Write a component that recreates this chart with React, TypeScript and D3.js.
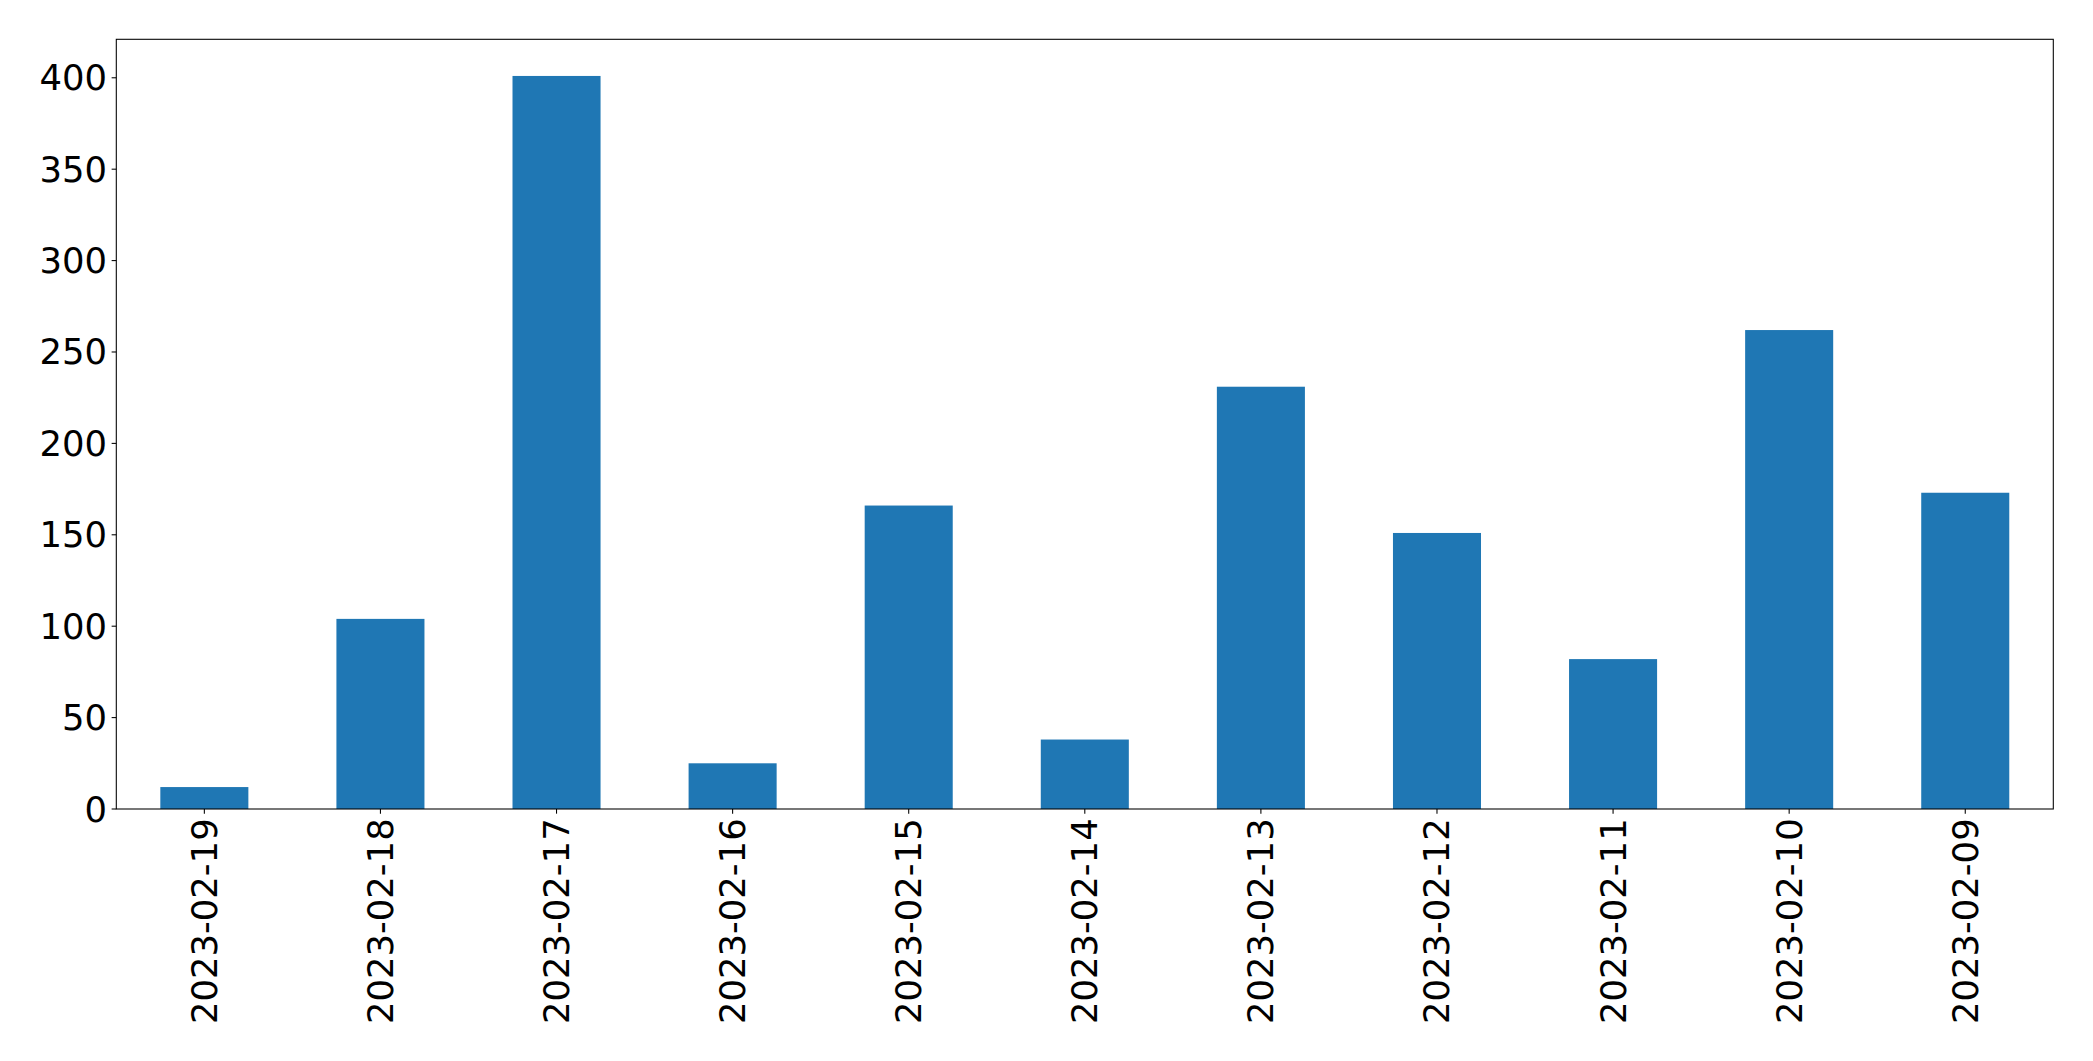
import React from "react";
import * as d3 from "d3";

const categories = [
  "2023-02-19", "2023-02-18", "2023-02-17", "2023-02-16", "2023-02-15", "2023-02-14",
  "2023-02-13", "2023-02-12", "2023-02-11", "2023-02-10", "2023-02-09",
];
const values = [12, 104, 401, 25, 166, 38, 231, 151, 82, 262, 173];
const yTicks = [0, 50, 100, 150, 200, 250, 300, 350, 400];

const W = 2093;
const H = 1061;
const left = 116.3;
const right = 2053.3;
const top = 39.3;
const bottom = 809;
const fontSize = 35.4;
const tickLen = 4.67;
const pad = 4.67;
const font = "'DejaVu Sans', sans-serif";

export default function App() {
  const x = d3.scaleLinear().domain([-0.5, categories.length - 0.5]).range([left, right]);
  const yMax = d3.max(values)! * 1.05;
  const y = d3.scaleLinear().domain([0, yMax]).range([bottom, top]);
  const bw = x(0.25) - x(-0.25);

  return (
    <div style={{ position: "fixed", left: 0, top: 0 }}>
      <svg width={W} height={H} style={{ display: "block", background: "#fff" }}>
        {values.map((v, i) => (
          <rect
            key={i}
            x={x(i) - bw / 2}
            y={y(v)}
            width={bw}
            height={y(0) - y(v)}
            fill="#1f77b4"
          />
        ))}
        <rect
          x={left}
          y={top}
          width={right - left}
          height={bottom - top}
          fill="none"
          stroke="#000"
          strokeWidth={1.07}
        />
        {yTicks.map((t) => (
          <g key={t}>
            <line x1={left - tickLen} x2={left} y1={y(t)} y2={y(t)} stroke="#000" strokeWidth={1.07} />
            <text
              x={left - tickLen - pad}
              y={y(t)}
              textAnchor="end"
              dominantBaseline="central"
              fontFamily={font}
              fontSize={fontSize}
              fill="#000"
            >
              {t}
            </text>
          </g>
        ))}
        {categories.map((c, i) => (
          <g key={c}>
            <line x1={x(i)} x2={x(i)} y1={bottom} y2={bottom + tickLen} stroke="#000" strokeWidth={1.07} />
            <text
              transform={`translate(${x(i)},${bottom + tickLen + pad}) rotate(-90)`}
              textAnchor="end"
              dominantBaseline="central"
              fontFamily={font}
              fontSize={fontSize}
              fill="#000"
            >
              {c}
            </text>
          </g>
        ))}
      </svg>
    </div>
  );
}
